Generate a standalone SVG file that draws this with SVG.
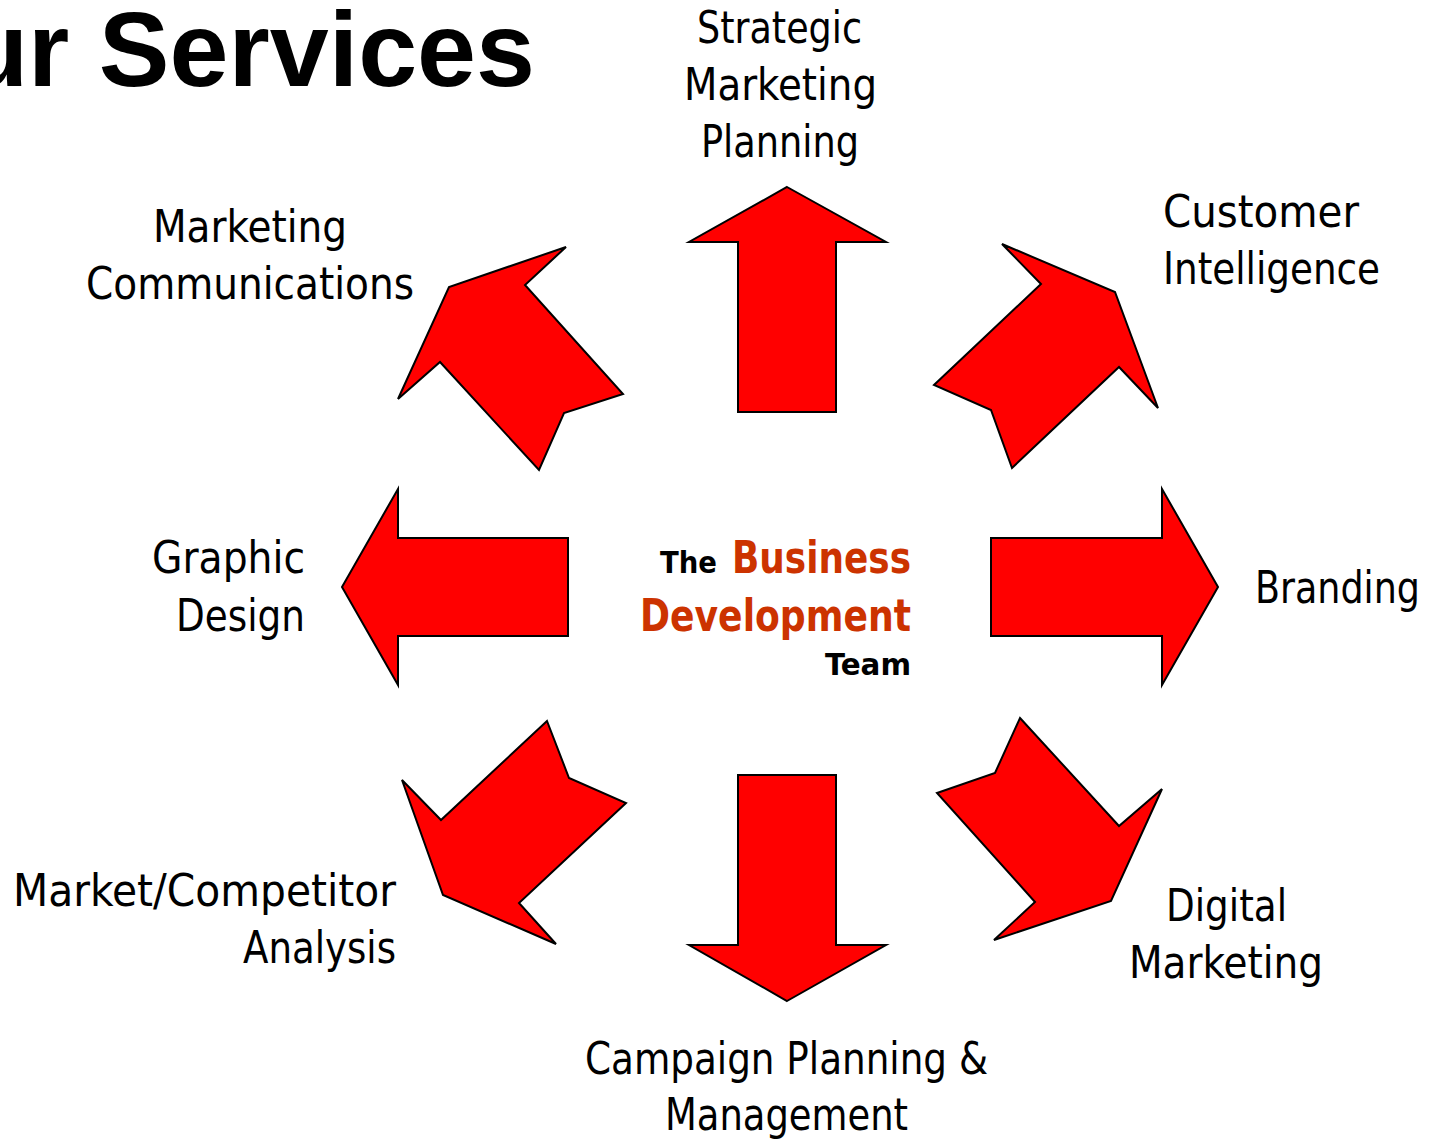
<svg xmlns="http://www.w3.org/2000/svg" width="1430" height="1141" viewBox="0 0 1430 1141">
<style>
.arrow{fill:#FF0000;stroke:#000;stroke-width:2;stroke-linejoin:miter}
.lbl{font-family:"DejaVu Sans Condensed","DejaVu Sans",sans-serif;font-stretch:condensed;font-size:44px;fill:#000}
.ctr{font-family:"DejaVu Sans Condensed","DejaVu Sans",sans-serif;font-stretch:condensed;font-weight:bold}
.title{font-family:"Liberation Sans",Arial,sans-serif;font-weight:bold;font-size:106px;fill:#000;text-anchor:end}
</style>
<rect width="1430" height="1141" fill="#fff"/>
<text class="title" x="535" y="86">ur Services</text>
<g id="connectors">
<polygon id="arrow-up" class="arrow" points="787,187 886,242 836,242 836,412 738,412 738,242 689,242"/>
<polygon id="arrow-upright" class="arrow" points="1002,244 1041,284 934,385 991,410 1012,468 1119,367 1158,408 1115,292"/>
<polygon id="arrow-right" class="arrow" points="1218,587 1162,489 1162,538 991,538 991,636 1162,636 1162,685"/>
<polygon id="arrow-downright" class="arrow" points="1020,718 1119,826 1162,789 1111,901 994,940 1035,902 937,793 995,773"/>
<polygon id="arrow-down" class="arrow" points="787,1001 886,945 836,945 836,775 738,775 738,945 689,945"/>
<polygon id="arrow-downleft" class="arrow" points="547,721 569,778 626,803 519,903 556,944 443,895 402,780 441,820"/>
<polygon id="arrow-left" class="arrow" points="342,587 398,489 398,538 568,538 568,636 398,636 398,685"/>
<polygon id="arrow-upleft" class="arrow" points="566,247 525,285 623,394 564,413 539,470 440,362 398,399 449,287"/>
</g>
<g id="center">
<text class="ctr" x="660" y="573" font-size="30" fill="#000" textLength="57" lengthAdjust="spacingAndGlyphs">The</text>
<text class="ctr" x="732" y="573" font-size="44" fill="#CC3300" textLength="179" lengthAdjust="spacingAndGlyphs">Business</text>
<text class="ctr" x="640" y="631" font-size="44" fill="#CC3300" textLength="271" lengthAdjust="spacingAndGlyphs">Development</text>
<text class="ctr" x="825" y="675" font-size="30" fill="#000" textLength="86" lengthAdjust="spacingAndGlyphs">Team</text>
</g>
<g id="strategic-marketing-planning">
<text class="lbl" x="697" y="43" textLength="165" lengthAdjust="spacingAndGlyphs">Strategic</text>
<text class="lbl" x="684" y="100" textLength="193" lengthAdjust="spacingAndGlyphs">Marketing</text>
<text class="lbl" x="701" y="157" textLength="158" lengthAdjust="spacingAndGlyphs">Planning</text>
</g>
<g id="customer-intelligence">
<text class="lbl" x="1163" y="227" textLength="196" lengthAdjust="spacingAndGlyphs">Customer</text>
<text class="lbl" x="1163" y="284" textLength="217" lengthAdjust="spacingAndGlyphs">Intelligence</text>
</g>
<g id="branding">
<text class="lbl" x="1255" y="603" textLength="165" lengthAdjust="spacingAndGlyphs">Branding</text>
</g>
<g id="digital-marketing">
<text class="lbl" x="1166" y="921" textLength="121" lengthAdjust="spacingAndGlyphs">Digital</text>
<text class="lbl" x="1129" y="978" textLength="194" lengthAdjust="spacingAndGlyphs">Marketing</text>
</g>
<g id="campaign-planning">
<text class="lbl" x="585" y="1074" textLength="403" lengthAdjust="spacingAndGlyphs">Campaign Planning &amp;</text>
<text class="lbl" x="665" y="1130" textLength="243" lengthAdjust="spacingAndGlyphs">Management</text>
</g>
<g id="market-competitor-analysis">
<text class="lbl" x="13" y="906" textLength="383" lengthAdjust="spacingAndGlyphs">Market/Competitor</text>
<text class="lbl" x="243" y="963" textLength="153" lengthAdjust="spacingAndGlyphs">Analysis</text>
</g>
<g id="graphic-design">
<text class="lbl" x="152" y="573" textLength="153" lengthAdjust="spacingAndGlyphs">Graphic</text>
<text class="lbl" x="176" y="631" textLength="129" lengthAdjust="spacingAndGlyphs">Design</text>
</g>
<g id="marketing-communications">
<text class="lbl" x="153" y="242" textLength="194" lengthAdjust="spacingAndGlyphs">Marketing</text>
<text class="lbl" x="86" y="299" textLength="328" lengthAdjust="spacingAndGlyphs">Communications</text>
</g>
</svg>
